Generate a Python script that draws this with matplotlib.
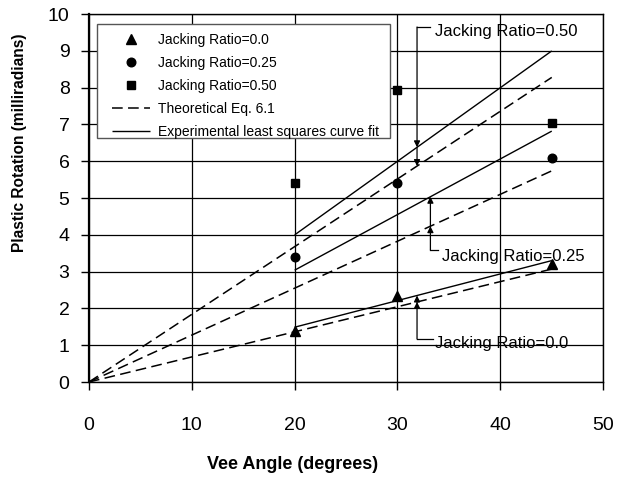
import matplotlib
matplotlib.use("Agg")
import matplotlib.pyplot as plt
from matplotlib.patches import Rectangle
import numpy as np

plt.rcParams['font.family'] = ['Liberation Sans', 'DejaVu Sans']

# measured points (vee angle, plastic rotation)
angles = [20, 30, 45]
rot_00 = [1.40, 2.35, 3.20]
rot_25 = [3.40, 5.42, 6.08]
rot_50 = [5.42, 7.93, 7.05]

# theoretical eq. 6.1 (lines from origin)
theo_x = [0, 45]
theo_00 = [0, 3.07]
theo_25 = [0, 5.74]
theo_50 = [0, 8.28]

# least squares fits
fit_x = [20, 45]
fit_00 = [1.49, 3.30]
fit_25 = [3.04, 6.82]
fit_50 = [4.00, 9.00]

legend_labels = ["Jacking Ratio=0.0", "Jacking Ratio=0.25", "Jacking Ratio=0.50",
                 "Theoretical Eq. 6.1", "Experimental least squares curve fit"]

fig = plt.figure(figsize=(6.18, 4.79), dpi=100)
ax = fig.add_axes([0.144, 0.2025, 0.832, 0.768])

dash = (7, 3.5)
ax.plot(angles, rot_00, '^', color='black', ms=6.5, label=legend_labels[0], zorder=5)
ax.plot(angles, rot_25, 'o', color='black', ms=6.2, label=legend_labels[1], zorder=5)
ax.plot(angles, rot_50, 's', color='black', ms=6.3, label=legend_labels[2], zorder=5)

for i, ty in enumerate([theo_00, theo_25, theo_50]):
    ax.plot(theo_x, ty, color='black', lw=1.1, dashes=dash,
            label=legend_labels[3] if i == 0 else None)
for i, fy in enumerate([fit_00, fit_25, fit_50]):
    ax.plot(fit_x, fy, color='black', lw=1.0, solid_capstyle='butt',
            label=legend_labels[4] if i == 0 else None)

ax.set_xlim(0, 50)
ax.set_ylim(0, 10)
ax.set_xticks(range(0, 51, 10))
ax.set_yticks(range(0, 11))
ax.grid(True, color='black', lw=0.9)
ax.set_axisbelow(True)
ax.tick_params(direction='out', length=6, width=1, labelsize=14, pad=8)
ax.tick_params(axis='x', pad=19)
for s in ax.spines.values():
    s.set_linewidth(1.0)
ax.spines['left'].set_linewidth(1.6)

# bracket annotations: (label, bracket x, bracket y, text x, text y, theo, fit, hook end)
notes = [
    ("Jacking Ratio=0.50", 31.9, 9.65, 33.6, 9.52, theo_50, fit_50, 33.2),
    ("Jacking Ratio=0.25", 33.2, 3.59, 34.3, 3.42, theo_25, fit_25, 33.9),
    ("Jacking Ratio=0.0", 31.9, 1.17, 33.6, 1.06, theo_00, fit_00, 33.5),
]
ap = dict(arrowstyle='-|>', color='black', lw=0.9, mutation_scale=9,
          shrinkA=0, shrinkB=0)
for lab, bx, by, tx, ty, theo, fit, hx in notes:
    yt = np.interp(bx, theo_x, theo)
    yf = np.interp(bx, fit_x, fit)
    near, far = (yf, yt) if abs(by - yf) < abs(by - yt) else (yt, yf)
    ax.plot([bx, hx], [by, by], color='black', lw=0.9)
    ax.annotate('', xy=(bx, near), xytext=(bx, by), arrowprops=ap)
    ax.annotate('', xy=(bx, far), xytext=(bx, near), arrowprops=ap)
    ax.text(tx, ty, lab, fontsize=12, va='center', ha='left')

# legend frame drawn separately so the padding matches
ax.add_patch(Rectangle((0.0156, 0.663), 0.570, 0.310, transform=ax.transAxes,
                       facecolor='white', edgecolor='#555555', lw=1.0, zorder=6))
leg = ax.legend(loc='upper left', bbox_to_anchor=(0.0442, 0.950), borderaxespad=0,
                fontsize=10, frameon=False,
                handlelength=2.75, handletextpad=0.58, labelspacing=0.66,
                borderpad=0, numpoints=1)
leg.set_zorder(7)

ax.set_xlabel("Vee Angle (degrees)", fontsize=13, fontweight='bold')
ax.xaxis.set_label_coords(0.395, -0.223)
ax.xaxis.label.set_va('center')
ax.set_ylabel("Plastic Rotation (milliradians)", fontsize=11.2, fontweight='bold')
ax.yaxis.set_label_coords(-0.135, 0.651)
ax.yaxis.label.set_va('center')

fig.savefig("out.png", dpi=100)
